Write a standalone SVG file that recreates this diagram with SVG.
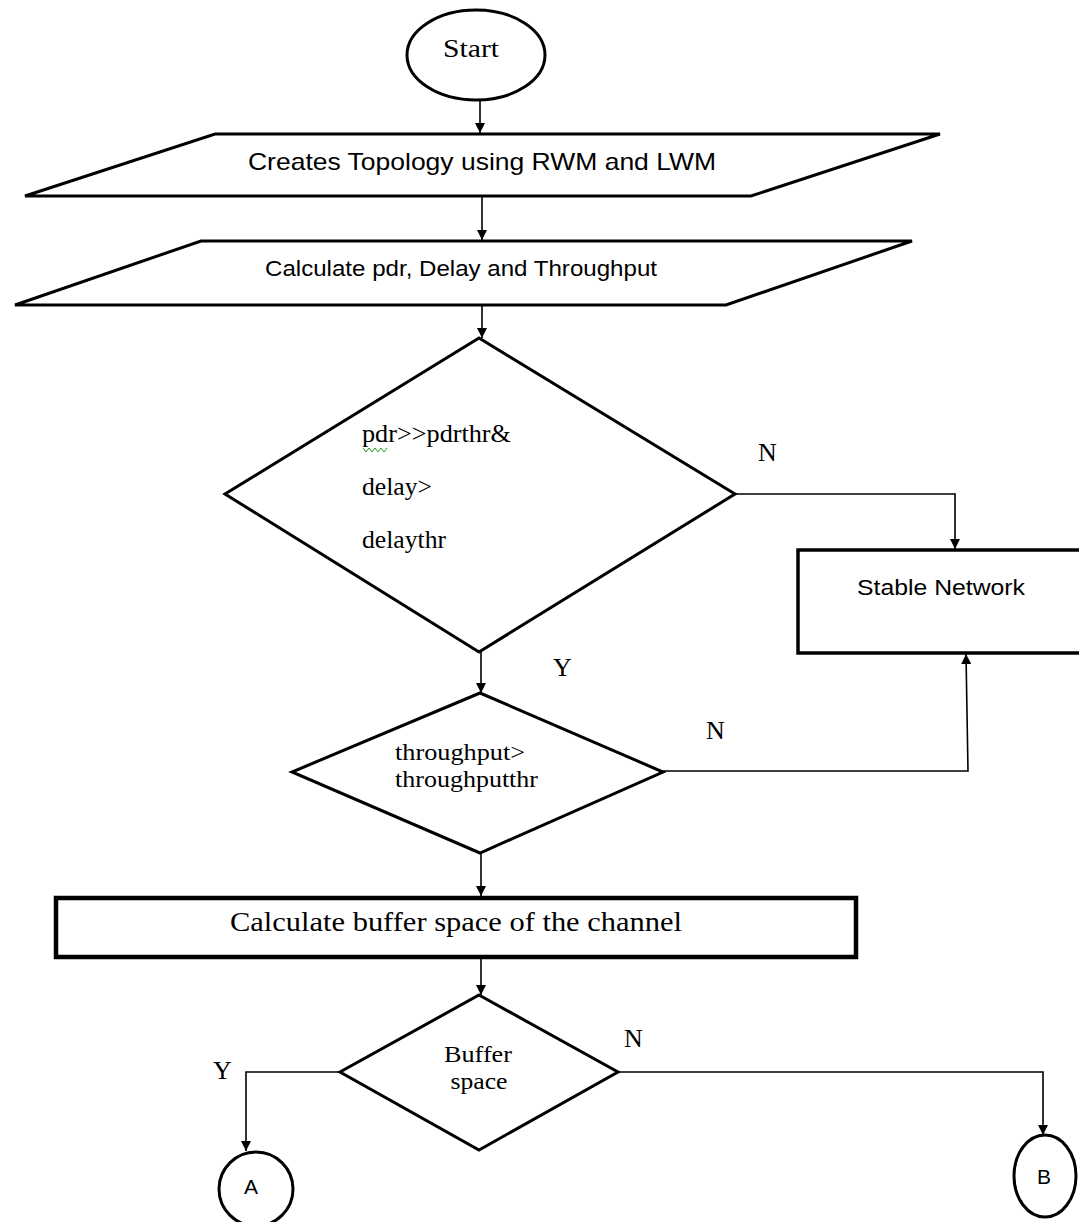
<svg xmlns="http://www.w3.org/2000/svg" width="1079" height="1222" viewBox="0 0 1079 1222">
<style>
.shape{fill:#fff;stroke:#000;stroke-width:3}
.thick{fill:#fff;stroke:#000;stroke-width:4.5}
.conn{fill:none;stroke:#000;stroke-width:1.6}
.serif{font-family:"Liberation Serif","Times New Roman",serif;fill:#000}
.sans{font-family:"Liberation Sans",Arial,sans-serif;fill:#000}
.lbl{font-family:"Liberation Serif","Times New Roman",serif;font-size:26px;fill:#000}
</style>
<defs>
<marker id="arr" viewBox="0 0 10 10" refX="10" refY="5" markerWidth="10" markerHeight="10" markerUnits="userSpaceOnUse" orient="auto">
<path d="M0,0 L10,5 L0,10 z" fill="#000"/>
</marker>
</defs>
<rect width="1079" height="1222" fill="#fff"/>

<g id="connectors">
<line class="conn" x1="480" y1="101" x2="480" y2="133" marker-end="url(#arr)"/>
<line class="conn" x1="482" y1="197" x2="482" y2="240" marker-end="url(#arr)"/>
<line class="conn" x1="482" y1="306" x2="482" y2="338" marker-end="url(#arr)"/>
<polyline class="conn" points="733,494 955,494 955,549" marker-end="url(#arr)"/>
<line class="conn" x1="481" y1="652" x2="481" y2="693" marker-end="url(#arr)"/>
<polyline class="conn" points="663,771 968,771 966,654" marker-end="url(#arr)"/>
<line class="conn" x1="481" y1="853" x2="481" y2="896" marker-end="url(#arr)"/>
<line class="conn" x1="481" y1="958" x2="481" y2="995" marker-end="url(#arr)"/>
<polyline class="conn" points="340,1072 246,1072 246,1151" marker-end="url(#arr)"/>
<polyline class="conn" points="618,1072 1043,1072 1043,1135" marker-end="url(#arr)"/>
<text class="lbl" x="758" y="461">N</text>
<text class="lbl" x="553" y="676">Y</text>
<text class="lbl" x="706" y="739">N</text>
<text class="lbl" x="624" y="1047">N</text>
<text class="lbl" x="213" y="1079">Y</text>
</g>

<g id="start">
<ellipse class="shape" cx="476" cy="55" rx="69" ry="45"/>
<text class="serif" x="471" y="57" font-size="26" text-anchor="middle" textLength="56" lengthAdjust="spacingAndGlyphs">Start</text>
</g>

<g id="topology">
<polygon class="shape" points="215,134 940,134 751,196 25,196"/>
<text class="sans" x="482" y="170" font-size="24" text-anchor="middle" textLength="468" lengthAdjust="spacingAndGlyphs">Creates Topology using RWM and LWM</text>
</g>

<g id="calculate">
<polygon class="shape" points="201,241 912,241 726,305 15,305"/>
<text class="sans" x="461" y="276" font-size="22" text-anchor="middle" textLength="392" lengthAdjust="spacingAndGlyphs">Calculate pdr, Delay and Throughput</text>
</g>

<g id="decision1">
<polygon class="shape" points="479,338 735,494 479,652 225,494"/>
<text class="serif" x="362" y="442" font-size="25" textLength="149" lengthAdjust="spacingAndGlyphs">pdr&gt;&gt;pdrthr&amp;</text>
<polyline points="363,448 366,452 369,448 372,452 375,448 378,452 381,448 384,452 387,448" fill="none" stroke="#2a9d2a" stroke-width="1"/>
<text class="serif" x="362" y="495" font-size="25" textLength="70" lengthAdjust="spacingAndGlyphs">delay&gt;</text>
<text class="serif" x="362" y="548" font-size="25" textLength="84" lengthAdjust="spacingAndGlyphs">delaythr</text>
</g>

<g id="stable">
<rect x="798" y="550" width="290" height="103" fill="#fff" stroke="#000" stroke-width="3.5"/>
<text class="sans" x="941" y="595" font-size="22" text-anchor="middle" textLength="168" lengthAdjust="spacingAndGlyphs">Stable Network</text>
</g>

<g id="decision2">
<polygon class="shape" points="480,693 663,772 480,853 292,772"/>
<text class="serif" x="395" y="760" font-size="24" textLength="130" lengthAdjust="spacingAndGlyphs">throughput&gt;</text>
<text class="serif" x="395" y="787" font-size="24" textLength="143" lengthAdjust="spacingAndGlyphs">throughputthr</text>
</g>

<g id="buffercalc">
<rect class="thick" x="56" y="898" width="800" height="59"/>
<text class="serif" x="456" y="931" font-size="27" text-anchor="middle" textLength="452" lengthAdjust="spacingAndGlyphs">Calculate buffer space of the channel</text>
</g>

<g id="decision3">
<polygon class="shape" points="479,995 618,1072 479,1150 340,1072"/>
<text class="serif" x="478" y="1062" font-size="24" text-anchor="middle" textLength="68" lengthAdjust="spacingAndGlyphs">Buffer</text>
<text class="serif" x="479" y="1089" font-size="24" text-anchor="middle" textLength="57" lengthAdjust="spacingAndGlyphs">space</text>
</g>

<g id="connA">
<circle class="shape" cx="256" cy="1189" r="37"/>
<text class="sans" x="251" y="1194" font-size="21" text-anchor="middle">A</text>
</g>

<g id="connB">
<ellipse class="shape" cx="1045" cy="1176" rx="31" ry="41"/>
<text class="sans" x="1044" y="1184" font-size="21" text-anchor="middle">B</text>
</g>
</svg>
